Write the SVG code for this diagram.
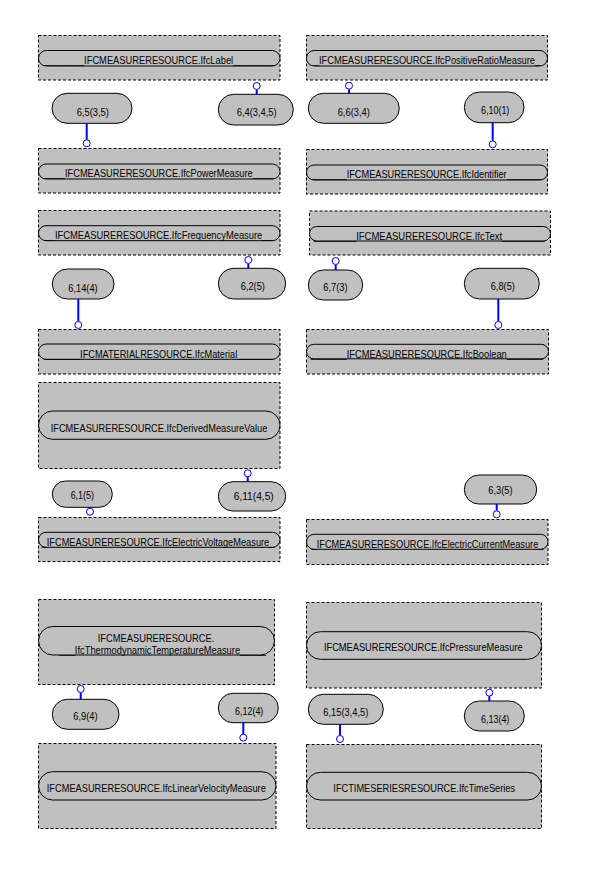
<svg xmlns="http://www.w3.org/2000/svg" width="600" height="888" viewBox="0 0 600 888">
<style>
.box{fill:#C0C0C0;stroke:#000;stroke-width:1;stroke-dasharray:3,2}
.pill{fill:#C0C0C0;stroke:#000;stroke-width:1}
.lbl{font-family:"Liberation Sans",Arial,sans-serif;font-size:10.5px;fill:#000;text-anchor:middle}
.sl{font-family:"Liberation Sans",Arial,sans-serif;font-size:11.5px;fill:#000;text-anchor:middle}
.cl{stroke:#0000FF;stroke-width:2;fill:none}
.cc{fill:#fff;stroke:#0000FF;stroke-width:1}
</style>
<rect width="600" height="888" fill="#fff"/>
<g id="ifcLabel">
<rect class="box" x="38.5" y="35.5" width="241.5" height="44.5"/>
<rect class="pill" x="38.5" y="50.5" width="241.5" height="15.5" rx="7.75"/>
<text class="lbl" x="158.65" y="64.3" textLength="231.9" lengthAdjust="spacingAndGlyphs">________IFCMEASURERESOURCE.IfcLabel________</text>
</g>
<g id="ifcPowerMeasure">
<rect class="box" x="38.5" y="148.5" width="241.5" height="44.5"/>
<rect class="pill" x="38.5" y="164" width="241.5" height="15" rx="7.5"/>
<text class="lbl" x="158.85" y="177.3" textLength="228.9" lengthAdjust="spacingAndGlyphs">____IFCMEASURERESOURCE.IfcPowerMeasure____</text>
</g>
<g id="ifcPositiveRatioMeasure">
<rect class="box" x="306.5" y="35.5" width="241" height="44.5"/>
<rect class="pill" x="306.5" y="50.5" width="241" height="15.5" rx="7.75"/>
<text class="lbl" x="427" y="64.3" textLength="226.3" lengthAdjust="spacingAndGlyphs">_IFCMEASURERESOURCE.IfcPositiveRatioMeasure_</text>
</g>
<g id="ifcIdentifier">
<rect class="box" x="306.5" y="149.5" width="241" height="44.5"/>
<rect class="pill" x="306.5" y="165" width="241" height="15" rx="7.5"/>
<text class="lbl" x="426.7" y="178.3" textLength="231.6" lengthAdjust="spacingAndGlyphs">_______IFCMEASURERESOURCE.IfcIdentifier_______</text>
</g>
<g id="ifcFrequencyMeasure">
<rect class="box" x="38.5" y="210.5" width="241.5" height="44.5"/>
<rect class="pill" x="38.5" y="225.7" width="241.5" height="15" rx="7.5"/>
<text class="lbl" x="158.65" y="239" textLength="228.1" lengthAdjust="spacingAndGlyphs">__IFCMEASURERESOURCE.IfcFrequencyMeasure__</text>
</g>
<g id="ifcText">
<rect class="box" x="309.5" y="211" width="241" height="44"/>
<rect class="pill" x="309.5" y="226.5" width="241" height="14.5" rx="7.25"/>
<text class="lbl" x="429.15" y="239.7" textLength="230.3" lengthAdjust="spacingAndGlyphs">________IFCMEASURERESOURCE.IfcText________</text>
</g>
<g id="ifcMaterial">
<rect class="box" x="38.5" y="329.5" width="241.5" height="44.5"/>
<rect class="pill" x="38.5" y="344" width="241.5" height="15.3" rx="7.6"/>
<text class="lbl" x="158.65" y="357.5" textLength="228.7" lengthAdjust="spacingAndGlyphs">_______IFCMATERIALRESOURCE.IfcMaterial_______</text>
</g>
<g id="ifcBoolean">
<rect class="box" x="306.5" y="329.5" width="242" height="44.5"/>
<rect class="pill" x="306.5" y="344.3" width="242" height="14.5" rx="7.25"/>
<text class="lbl" x="426.7" y="357.5" textLength="232.4" lengthAdjust="spacingAndGlyphs">_______IFCMEASURERESOURCE.IfcBoolean_______</text>
</g>
<g id="ifcDerivedMeasureValue">
<rect class="box" x="38.5" y="382.5" width="241.5" height="86"/>
<rect class="pill" x="38.5" y="411" width="241.5" height="28.3" rx="14.15"/>
<text class="lbl" x="159" y="431.5" textLength="216.6" lengthAdjust="spacingAndGlyphs">IFCMEASURERESOURCE.IfcDerivedMeasureValue</text>
</g>
<g id="ifcElectricVoltageMeasure">
<rect class="box" x="38.5" y="517.5" width="241.5" height="44"/>
<rect class="pill" x="38.5" y="532.3" width="241.5" height="15" rx="7.5"/>
<text class="lbl" x="158" y="546" textLength="232.8" lengthAdjust="spacingAndGlyphs">_IFCMEASURERESOURCE.IfcElectricVoltageMeasure_</text>
</g>
<g id="ifcElectricCurrentMeasure">
<rect class="box" x="306.5" y="519.5" width="241.5" height="45"/>
<rect class="pill" x="306.5" y="534.3" width="241.5" height="15" rx="7.5"/>
<text class="lbl" x="427.5" y="548" textLength="231.8" lengthAdjust="spacingAndGlyphs">_IFCMEASURERESOURCE.IfcElectricCurrentMeasure_</text>
</g>
<g id="ifcThermodynamicTemperatureMeasure">
<rect class="box" x="38.5" y="599.5" width="236" height="85"/>
<rect class="pill" x="38.5" y="626.5" width="236" height="28.5" rx="14.25"/>
<text class="lbl" x="156" y="642" textLength="116.6" lengthAdjust="spacingAndGlyphs">IFCMEASURERESOURCE.</text>
<text class="lbl" x="59.3" y="653.8" style="text-anchor:start" textLength="206.7" lengthAdjust="spacingAndGlyphs">___IfcThermodynamicTemperatureMeasure_____</text>
</g>
<g id="ifcLinearVelocityMeasure">
<rect class="box" x="38.5" y="743.5" width="237.5" height="85"/>
<rect class="pill" x="38.5" y="771.7" width="237.5" height="28.3" rx="14.15"/>
<text class="lbl" x="156.3" y="791.5" textLength="219" lengthAdjust="spacingAndGlyphs">IFCMEASURERESOURCE.IfcLinearVelocityMeasure</text>
</g>
<g id="ifcPressureMeasure">
<rect class="box" x="306.5" y="602.5" width="235" height="85.5"/>
<rect class="pill" x="306.5" y="631.7" width="235" height="27.6" rx="13.8"/>
<text class="lbl" x="423.3" y="650.5" textLength="198.7" lengthAdjust="spacingAndGlyphs">IFCMEASURERESOURCE.IfcPressureMeasure</text>
</g>
<g id="ifcTimeSeries">
<rect class="box" x="306.5" y="744.5" width="235" height="84"/>
<rect class="pill" x="306.5" y="772.3" width="235" height="27.7" rx="13.85"/>
<text class="lbl" x="424.2" y="791.5" textLength="181.7" lengthAdjust="spacingAndGlyphs">IFCTIMESERIESRESOURCE.IfcTimeSeries</text>
</g>
<g id="n6_5">
<rect class="pill" x="52" y="93.3" width="80" height="30" rx="15"/>
<text class="sl" x="92.8" y="115.5" textLength="32.3" lengthAdjust="spacingAndGlyphs">6,5(3,5)</text>
</g>
<g id="n6_4">
<rect class="pill" x="218.3" y="94.3" width="75" height="30.7" rx="15.35"/>
<text class="sl" x="256.7" y="116.3" textLength="40" lengthAdjust="spacingAndGlyphs">6,4(3,4,5)</text>
</g>
<g id="n6_6">
<rect class="pill" x="308.3" y="93.3" width="91" height="30" rx="15"/>
<text class="sl" x="353.8" y="115.5" textLength="32.3" lengthAdjust="spacingAndGlyphs">6,6(3,4)</text>
</g>
<g id="n6_10">
<rect class="pill" x="464.3" y="92" width="59.7" height="30.7" rx="15.35"/>
<text class="sl" x="495.2" y="114" textLength="28.3" lengthAdjust="spacingAndGlyphs">6,10(1)</text>
</g>
<g id="n6_14">
<rect class="pill" x="52.3" y="269" width="61.7" height="30" rx="15"/>
<text class="sl" x="83" y="291.5" textLength="29.3" lengthAdjust="spacingAndGlyphs">6,14(4)</text>
</g>
<g id="n6_2">
<rect class="pill" x="218.3" y="268.3" width="67.4" height="30.7" rx="15.35"/>
<text class="sl" x="252.8" y="289.8" textLength="24.3" lengthAdjust="spacingAndGlyphs">6,2(5)</text>
</g>
<g id="n6_7">
<rect class="pill" x="308.3" y="270" width="54.4" height="30" rx="15"/>
<text class="sl" x="335.5" y="290.7" textLength="24.3" lengthAdjust="spacingAndGlyphs">6,7(3)</text>
</g>
<g id="n6_8">
<rect class="pill" x="464.3" y="268.3" width="75" height="30.7" rx="15.35"/>
<text class="sl" x="502.8" y="289.8" textLength="24.3" lengthAdjust="spacingAndGlyphs">6,8(5)</text>
</g>
<g id="n6_1">
<rect class="pill" x="52.3" y="481" width="60" height="26.3" rx="13.15"/>
<text class="sl" x="82.3" y="498.5" textLength="23.3" lengthAdjust="spacingAndGlyphs">6,1(5)</text>
</g>
<g id="n6_11">
<rect class="pill" x="218.3" y="481.7" width="67.4" height="29.3" rx="14.65"/>
<text class="sl" x="253.7" y="500" textLength="40" lengthAdjust="spacingAndGlyphs">6,11(4,5)</text>
</g>
<g id="n6_3">
<rect class="pill" x="464.3" y="475" width="72.4" height="29" rx="14.5"/>
<text class="sl" x="500.5" y="494" textLength="24.3" lengthAdjust="spacingAndGlyphs">6,3(5)</text>
</g>
<g id="n6_9">
<rect class="pill" x="52.3" y="699.3" width="66.7" height="30" rx="15"/>
<text class="sl" x="85.5" y="720.2" textLength="24.3" lengthAdjust="spacingAndGlyphs">6,9(4)</text>
</g>
<g id="n6_12">
<rect class="pill" x="218.3" y="693.3" width="60" height="29.4" rx="14.7"/>
<text class="sl" x="249.2" y="714.5" textLength="28.3" lengthAdjust="spacingAndGlyphs">6,12(4)</text>
</g>
<g id="n6_13">
<rect class="pill" x="464.3" y="701" width="60" height="30" rx="15"/>
<text class="sl" x="495.2" y="722.5" textLength="28.3" lengthAdjust="spacingAndGlyphs">6,13(4)</text>
</g>
<g id="n6_15">
<rect class="pill" x="308.3" y="694.3" width="75" height="30" rx="15"/>
<text class="sl" x="345.8" y="715.5" textLength="45" lengthAdjust="spacingAndGlyphs">6,15(3,4,5)</text>
</g>
<g id="connectors">
<line class="cl" x1="256.7" y1="89.5" x2="256.7" y2="94.3"/><circle class="cc" cx="256.7" cy="86" r="3.5"/>
<line class="cl" x1="86.7" y1="123.3" x2="86.7" y2="139.8"/><circle class="cc" cx="86.7" cy="143.3" r="3.5"/>
<line class="cl" x1="349" y1="89.2" x2="349" y2="93.3"/><circle class="cc" cx="349" cy="85.7" r="3.5"/>
<line class="cl" x1="492.7" y1="122.7" x2="492.7" y2="140.8"/><circle class="cc" cx="492.7" cy="144.3" r="3.5"/>
<line class="cl" x1="248.3" y1="263.5" x2="248.3" y2="268.3"/><circle class="cc" cx="248.3" cy="260" r="3.5"/>
<line class="cl" x1="78.3" y1="299" x2="78.3" y2="321.5"/><circle class="cc" cx="78.3" cy="325" r="3.5"/>
<line class="cl" x1="335.7" y1="264.5" x2="335.7" y2="270"/><circle class="cc" cx="335.7" cy="261" r="3.5"/>
<line class="cl" x1="498.3" y1="299" x2="498.3" y2="321.5"/><circle class="cc" cx="498.3" cy="325" r="3.5"/>
<line class="cl" x1="247.7" y1="476.8" x2="247.7" y2="481.7"/><circle class="cc" cx="247.7" cy="473.3" r="3.5"/>
<line class="cl" x1="90" y1="507.3" x2="90" y2="508.2"/><circle class="cc" cx="90" cy="511.7" r="3.5"/>
<line class="cl" x1="496.7" y1="504" x2="496.7" y2="510.8"/><circle class="cc" cx="496.7" cy="514.3" r="3.5"/>
<line class="cl" x1="80.7" y1="692.5" x2="80.7" y2="699.3"/><circle class="cc" cx="80.7" cy="689" r="3.5"/>
<line class="cl" x1="243.3" y1="722.7" x2="243.3" y2="734.2"/><circle class="cc" cx="243.3" cy="737.7" r="3.5"/>
<line class="cl" x1="489.3" y1="696.2" x2="489.3" y2="701"/><circle class="cc" cx="489.3" cy="692.7" r="3.5"/>
<line class="cl" x1="340" y1="724.3" x2="340" y2="735.5"/><circle class="cc" cx="340" cy="739" r="3.5"/>
</g>
</svg>
